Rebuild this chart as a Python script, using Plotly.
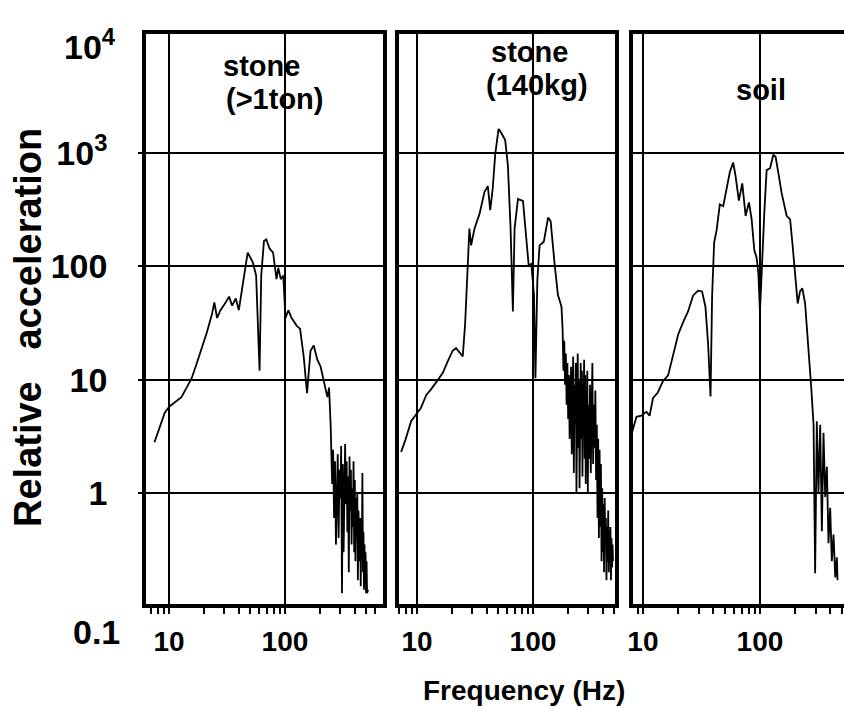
import plotly.graph_objects as go

# ---------------- data ----------------
freq_ton = [7.5, 8.3, 9.2, 10.1, 11.6, 12.8, 14.2, 15.7, 17.4, 19.2, 21.2, 23.5, 24.6, 26, 27.8,
            30.8, 33, 35, 37.7, 40, 43, 47.7, 52.7, 56.4, 60.4, 62.4, 65.9, 69, 73.8, 79, 84.5,
            87.5, 92, 96.7, 101, 107, 114, 126, 135, 145, 155, 166, 177, 190, 203, 217, 232,
            240, 248, 255, 260, 265, 270, 275, 280, 285, 290, 295, 300, 305, 310, 315, 320, 325,
            330, 335, 340, 345, 350, 355, 360, 365, 370, 375, 380, 385, 390, 395, 400, 405, 410,
            415, 420, 425, 430, 440, 445, 450, 455, 460, 465, 470, 475, 480, 485, 490, 495, 500,
            505, 510, 520]
acc_ton = [2.8, 3.8, 5.1, 5.8, 6.5, 7.0, 8.5, 10.3, 14, 19, 26, 38, 48, 35, 41,
           48, 54, 45, 52, 41, 66, 132, 109, 83, 12, 83, 167, 173, 143, 132, 77,
           97, 77, 83, 35, 41, 35, 30, 28, 16, 7.6, 18, 20, 15, 13, 9.5, 7.0,
           8.5, 3.8, 1.2, 2.4, 0.6, 1.9, 0.35, 1.5, 2.2, 0.4, 1.6, 0.9, 2.6, 0.13, 1.8, 0.3, 1.3,
           2.7, 0.8, 1.9, 0.45, 1.4, 0.2, 2.1, 0.7, 1.6, 0.35, 1.1, 0.5, 1.9, 0.3, 1.3, 0.25, 0.9,
           0.4, 1.0, 0.17, 0.7, 0.25, 0.6, 0.15, 0.5, 0.3, 1.5, 0.2, 0.45, 0.14, 0.35, 0.15, 0.3, 0.13,
           0.25, 0.13, 0.14]

freq_140 = [7.3, 8.0, 8.9, 9.8, 10.8, 12, 13.2, 15.1, 16.7, 18.4, 20.3, 21.7, 24.8, 26, 27.4,
            28.3, 29.3, 31.3, 34.6, 38.2, 40.8, 42.8, 45, 47.2, 50.5, 53.2, 57.6, 60.8, 64.1, 67.1,
            69.4, 74.2, 82, 87.6, 91.8, 96.8, 102, 105, 109, 114, 124, 135, 142, 154, 164, 176,
            180, 183, 186, 189, 192, 195, 198, 201, 204, 207, 210, 213, 216, 219, 222, 225, 228,
            231, 234, 237, 240, 243, 246, 249, 252, 255, 258, 261, 264, 267, 270, 273, 276, 279,
            282, 285, 288, 291, 294, 297, 300, 305, 310, 315, 320, 325, 330, 335, 340, 345, 350,
            355, 360, 365, 370, 375, 380, 385, 390, 395, 400, 405, 410, 415, 420, 425, 430, 435,
            440, 445, 450, 455, 460, 465, 470, 475, 480, 485, 490]
acc_140 = [2.3, 3.0, 4.3, 4.9, 5.6, 7.3, 8.2, 9.9, 11.5, 14.5, 18, 19, 16, 31, 109,
           215, 153, 215, 290, 455, 510, 313, 491, 963, 1630, 1510, 1300, 770, 215, 40,
           215, 392, 377, 185, 102, 105, 56, 10.3, 75, 153, 165, 269, 250, 102, 56, 44,
           28, 12, 22, 9, 17, 6, 14, 4.5, 11, 3, 8, 13, 2.2, 7, 16, 1.5, 9,
           4, 14, 1.0, 6, 17, 2.5, 10, 1.1, 8, 14, 3, 12, 1.4, 9, 5, 15, 2,
           11, 1.2, 7, 3.5, 12, 1.0, 6, 2, 9, 1.5, 5, 14, 1.8, 6, 2.5, 8, 1.3,
           4, 0.6, 3, 0.4, 2.4, 0.5, 1.8, 0.25, 1.1, 0.3, 0.8, 0.2, 0.9, 0.35, 0.6, 0.17, 0.5,
           0.25, 0.7, 0.2, 0.45, 0.3, 0.5, 0.17, 0.4, 0.22, 0.35, 0.25]

freq_soil = [7.8, 8.8, 9.7, 10.7, 11.4, 12.2, 13.4, 14.8, 16.4, 18.1, 20, 22, 24.3, 26.8, 29.6,
             32, 34.2, 36.1, 37.8, 39, 40.6, 42.5, 45.4, 48.5, 51.8, 55.3, 59, 61.8, 66, 70.6,
             75.4, 80.5, 84.9, 89.4, 93.6, 96.8, 100, 103, 109, 114, 122, 130, 136, 144, 153,
             169, 181, 189, 200, 210, 220, 230, 243, 260, 274, 287, 296, 306, 316, 327, 338, 349,
             361, 373, 385, 398, 411, 425, 440, 454, 460]
acc_soil = [3.0, 4.7, 4.8, 5.2, 4.8, 6.9, 7.7, 9.7, 10.9, 16, 25, 32, 40, 55, 61,
            60, 44, 20, 7.1, 55, 163, 205, 352, 339, 480, 680, 824, 630, 380, 540,
            279, 366, 259, 139, 119, 88, 40, 88, 302, 706, 734, 962, 925, 654, 444,
            279, 259, 163, 81, 47, 60, 64, 47, 20, 8.6, 4.0, 0.196, 4.3, 1.0, 4.0, 0.46, 3.4,
            0.92, 1.7, 0.36, 0.74, 0.25, 0.43, 0.18, 0.27, 0.17]

panel_titles = [["stone", "(>1ton)"], ["stone", "(140kg)"], ["soil"]]
y_tickvals = [1, 10, 100, 1000]
y_ticktext = ["1", "10", "100", "10<sup>3</sup>"]
y_top_label = "10<sup>4</sup>"
y_bottom_label = "0.1"
x_tickvals = [10, 100]
x_ticktext = ["10", "100"]
x_minor = [7, 8, 9, 20, 30, 40, 50, 60, 70, 80, 90, 200, 300, 400, 500, 600]

# ---------------- figure ----------------
W, H = 844, 708
L, R, T, B = 146, 0, 34, 104
PW, PH = W - L - R, H - T - B

def px_x(px):
    return (px - L) / PW

def px_y(py):
    return (H - B - py) / PH

FONT = "Liberation Sans"
fig = go.Figure()
series = [(freq_ton, acc_ton), (freq_140, acc_140), (freq_soil, acc_soil)]
for i, (fx, fy) in enumerate(series):
    sfx = "" if i == 0 else str(i + 1)
    fig.add_trace(go.Scatter(x=fx, y=fy, mode="lines", xaxis="x" + sfx, yaxis="y" + sfx,
                             line=dict(color="black", width=1.8), showlegend=False,
                             hoverinfo="skip"))

domains = [(px_x(146), px_x(383)), (px_x(399), px_x(615)), (px_x(633), 1.0)]
xranges = [(0.802, 2.845), (0.845, 2.707), (0.915, 2.718)]
yrange = (-0.98, 4.05)

layout = dict(width=W, height=H, margin=dict(l=L, r=R, t=T, b=B),
              plot_bgcolor="white", paper_bgcolor="white", showlegend=False)
for i in range(3):
    sfx = "" if i == 0 else str(i + 1)
    layout["xaxis" + sfx] = dict(
        type="log", domain=list(domains[i]), range=list(xranges[i]), anchor="y" + sfx,
        tickmode="array", tickvals=x_tickvals, ticktext=x_ticktext,
        showgrid=True, gridcolor="black", gridwidth=1.6,
        showline=True, linecolor="black", linewidth=3.5, mirror=True,
        ticks="outside", ticklen=6, tickwidth=1.5, tickcolor="black",
        minor=dict(tickmode="array", tickvals=x_minor, ticks="outside", ticklen=6,
                   tickwidth=1.5, tickcolor="black", showgrid=False),
        ticklabelstandoff=4,
        tickfont=dict(family=FONT, size=28, color="black", weight="bold"),
        zeroline=False, fixedrange=True)
    layout["yaxis" + sfx] = dict(
        type="log", range=list(yrange), anchor="x" + sfx,
        tickmode="array", tickvals=y_tickvals, ticktext=y_ticktext,
        showticklabels=(i == 0),
        showgrid=True, gridcolor="black", gridwidth=1.6,
        showline=True, linecolor="black", linewidth=3.5, mirror=(i < 2),
        ticks="outside" if i == 0 else "", ticklen=4, tickwidth=1.5, tickcolor="black",
        ticklabelstandoff=24,
        tickfont=dict(family=FONT, size=34, color="black", weight="bold"),
        zeroline=False, fixedrange=True)

# white masks (between grid and data) that interrupt the 100 Hz grid line behind the titles
masks = [(210, 345, 50, 113), (476, 600, 37, 101), (728, 796, 71, 107)]
shapes = []
for x0, x1, y0, y1 in masks:
    shapes.append(dict(type="rect", xref="paper", yref="paper", layer="between",
                       x0=px_x(x0), x1=px_x(x1), y0=px_y(y1), y1=px_y(y0),
                       fillcolor="white", line=dict(width=0)))
layout["shapes"] = shapes

annotations = []
yfont = dict(family=FONT, size=34, color="black", weight="bold")
# y labels at the ends of the axis
annotations.append(dict(text=y_top_label, x=px_x(118), y=px_y(44), xref="paper", yref="paper",
                        xanchor="right", yanchor="middle", showarrow=False, font=yfont))
annotations.append(dict(text=y_bottom_label, x=px_x(122), y=px_y(632), xref="paper", yref="paper",
                        xanchor="right", yanchor="middle", showarrow=False, font=yfont))
# axis titles
annotations.append(dict(text="Relative&nbsp;&nbsp;&nbsp;acceleration", x=px_x(28), y=px_y(328),
                        xref="paper", yref="paper", textangle=-90, showarrow=False,
                        xanchor="center", yanchor="middle",
                        font=dict(family=FONT, size=38, color="black", weight="bold")))
annotations.append(dict(text="Frequency (Hz)", x=px_x(524), y=px_y(690), xref="paper", yref="paper",
                        showarrow=False, xanchor="center", yanchor="middle",
                        font=dict(family=FONT, size=28, color="black", weight="bold")))
# panel titles
title_pos = [[(261, 66), (274, 99)], [(529, 52), (537, 85)], [(761, 90)]]
for lines, poss in zip(panel_titles, title_pos):
    for txt, (px, py) in zip(lines, poss):
        annotations.append(dict(text=txt, x=px_x(px), y=px_y(py), xref="paper", yref="paper",
                                showarrow=False, xanchor="center", yanchor="middle",
                                font=dict(family=FONT, size=29, color="black", weight="bold")))
layout["annotations"] = annotations
fig.update_layout(**layout)
fig.write_html("out.html")
